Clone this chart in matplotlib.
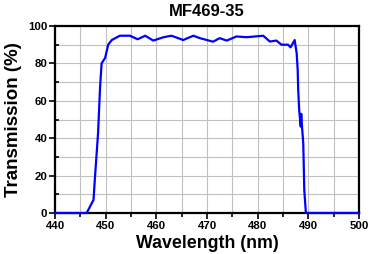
import matplotlib
matplotlib.use("Agg")
import matplotlib.pyplot as plt
from matplotlib.ticker import MultipleLocator

wavelength = [440, 445.9, 446.25, 447.6, 447.9, 448.5, 448.9, 449.2, 449.9, 450.5, 451.2, 452.8,
              454.8, 456.3, 457.8, 459.4, 461.4, 463.0, 465.3, 467.3, 468.6, 471.2, 472.5,
              473.9, 475.8, 477.8, 481.1, 482.4, 483.7, 484.7, 486.0, 486.5, 487.3, 487.7,
              487.9, 488.0, 488.2, 488.5, 488.6, 488.7, 489.0, 489.2, 489.5, 489.6, 500]
transmission = [0, 0, 0, 7, 19.5, 42.7, 67.5, 80, 83, 90, 92.5, 94.8,
                94.8, 92.9, 94.8, 92.2, 94, 94.8, 92.5, 94.8, 93.5, 91.6, 93.5,
                92.2, 94.4, 94, 94.8, 91.7, 92.2, 90, 90, 88.6, 92.5, 85.4,
                76.5, 65.8, 55, 46.2, 53, 48, 37.3, 12.3, 0.7, 0, 0]

title = "MF469-35"
xlabel = "Wavelength (nm)"
ylabel = "Transmission (%)"

plt.rcParams['font.family'] = ['Liberation Sans', 'DejaVu Sans']

fig = plt.figure(figsize=(3.70, 2.54), dpi=100)
ax = fig.add_axes([55/370, 1 - 213/254, 304/370, 187/254])

ax.plot(wavelength, transmission, color='#0000ff', lw=1.6, zorder=3, clip_on=False)
ax.set_xlim(440, 500)
ax.set_ylim(0, 100)
ax.xaxis.set_major_locator(MultipleLocator(10))
ax.xaxis.set_minor_locator(MultipleLocator(5))
ax.yaxis.set_major_locator(MultipleLocator(20))
ax.yaxis.set_minor_locator(MultipleLocator(10))
ax.grid(True, which='both', color='#c0c0c0', lw=0.8, zorder=0)
for s in ax.spines.values():
    s.set_linewidth(1.6)
ax.tick_params(which='major', direction='out', length=4, width=1.2, labelsize=8.2, pad=1.5)
ax.tick_params(axis='x', which='minor', direction='out', length=3, width=1.2)
ax.tick_params(axis='y', which='minor', direction='in', length=3, width=1.2)
for lbl in ax.get_xticklabels() + ax.get_yticklabels():
    lbl.set_fontweight('bold')

ax.set_title(title, fontsize=12, fontweight='bold', pad=7)
ax.set_xlabel(xlabel, fontsize=12.8, fontweight='bold', labelpad=3)
ax.set_ylabel(ylabel, fontsize=13.5, fontweight='bold', labelpad=4)

fig.savefig('out.png', dpi=100)
